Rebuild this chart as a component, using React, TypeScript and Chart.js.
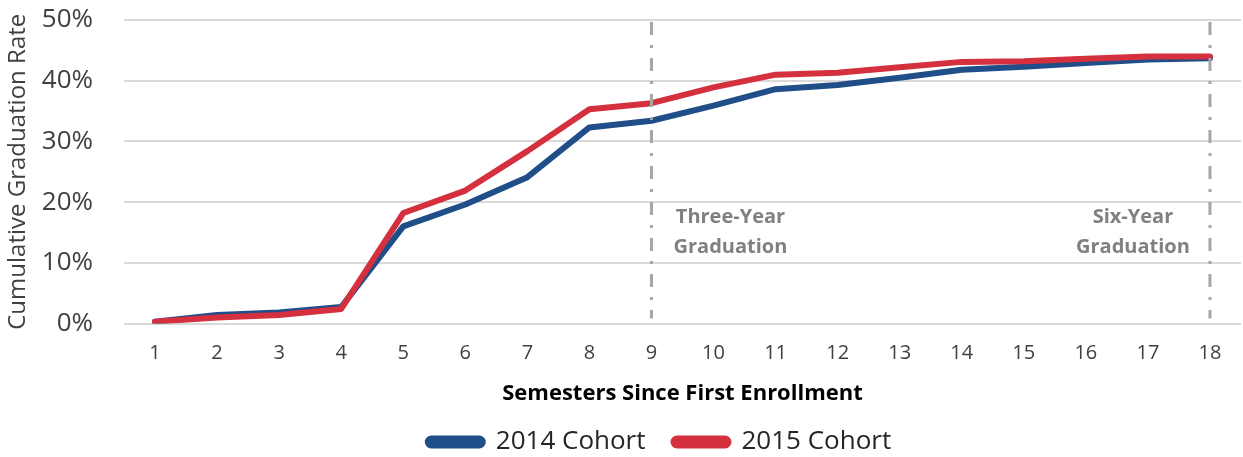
import React, { useEffect, useRef } from "react";
import { Chart, registerables } from "chart.js";

Chart.register(...registerables);

const semesters = ["1", "2", "3", "4", "5", "6", "7", "8", "9", "10", "11", "12", "13", "14", "15", "16", "17", "18"];
const cohort2014 = [0.3, 1.4, 1.8, 2.7, 16.0, 19.6, 24.1, 32.3, 33.4, 35.9, 38.6, 39.3, 40.5, 41.8, 42.3, 42.9, 43.5, 43.7];
const cohort2015 = [0.3, 1.0, 1.4, 2.4, 18.2, 21.9, 28.4, 35.3, 36.3, 38.9, 41.0, 41.3, 42.2, 43.1, 43.2, 43.6, 44.0, 44.0];
const yTicks = [0, 10, 20, 30, 40, 50];
const markers = [
  { label: "9", lines: ["Three-Year", "Graduation"], dx: 79 },
  { label: "18", lines: ["Six-Year", "Graduation"], dx: -77 },
];
const markerTextValues = [17.5, 12.6];

const FONT = "'Open Sans', 'Noto Sans', sans-serif";
const BLUE = "#1f4e89";
const RED = "#d4303d";

const markerPlugin = {
  id: "markerLines",
  afterLayout(chart: any) {
    const lg = chart.legend;
    if (lg) {
      lg.left += 39;
      lg.right += 39;
    }
  },
  afterDatasetsDraw(chart: any) {
    const { ctx, chartArea, scales } = chart;
    const xs = scales.x;
    const ys = scales.y;
    ctx.save();
    markers.forEach((m) => {
      const idx = semesters.indexOf(m.label);
      const x = xs.getPixelForValue(idx);
      ctx.beginPath();
      ctx.strokeStyle = "#a6a6a6";
      ctx.lineWidth = 3;
      ctx.setLineDash([13, 10, 3, 10]);
      ctx.moveTo(x, chartArea.top + 2);
      ctx.lineTo(x, chartArea.bottom - 5);
      ctx.stroke();
      ctx.setLineDash([]);
      ctx.fillStyle = "#808080";
      ctx.font = `bold 20px ${FONT}`;
      ctx.textAlign = "center";
      ctx.textBaseline = "middle";
      m.lines.forEach((t, i) => {
        ctx.fillText(t, x + m.dx, ys.getPixelForValue(markerTextValues[i]));
      });
    });
    ctx.restore();
  },
};

export default function App() {
  const ref = useRef<HTMLCanvasElement | null>(null);
  useEffect(() => {
    if (!ref.current) return;
    const chart = new Chart(ref.current, {
      type: "line",
      data: {
        labels: semesters,
        datasets: [
          {
            label: "2014 Cohort",
            data: cohort2014,
            borderColor: BLUE,
            backgroundColor: BLUE,
            borderWidth: 6,
            pointRadius: 0,
            tension: 0,
            borderJoinStyle: "round",
            borderCapStyle: "round",
            order: 1,
          },
          {
            label: "2015 Cohort",
            data: cohort2015,
            borderColor: RED,
            backgroundColor: RED,
            borderWidth: 6,
            pointRadius: 0,
            tension: 0,
            borderJoinStyle: "round",
            borderCapStyle: "round",
            order: 0,
          },
        ],
      },
      options: {
        responsive: false,
        animation: false,
        layout: { padding: { top: 20, right: 2, left: 0, bottom: -8 } },
        plugins: {
          tooltip: { enabled: false },
          legend: {
            position: "bottom",
            labels: {
              sort: (a: any, b: any) => a.datasetIndex - b.datasetIndex,
              boxWidth: 55,
              boxHeight: 7,
              useBorderRadius: true,
              borderRadius: 3.5,
              padding: 28,
              color: "#262626",
              font: { family: FONT, size: 26 },
            },
          },
        },
        scales: {
          x: {
            type: "category",
            offset: true,
            grid: { display: false, drawTicks: false },
            border: { display: false },
            ticks: {
              color: "#404040",
              font: { family: FONT, size: 20 },
              padding: 17.5,
              maxRotation: 0,
              autoSkip: false,
            },
            title: {
              display: true,
              text: "Semesters Since First Enrollment",
              color: "#000000",
              font: { family: FONT, size: 22, weight: "bold" },
              padding: { top: 0, bottom: -6 },
            },
            afterFit: (s: any) => {
              s.height = 77.5;
            },
          },
          y: {
            min: 0,
            max: 50,
            afterBuildTicks: (s: any) => {
              s.ticks = yTicks.map((v) => ({ value: v }));
            },
            grid: { color: "#d9d9d9", lineWidth: 2, drawTicks: false },
            border: { display: false },
            ticks: {
              color: "#404040",
              font: { family: FONT, size: 26 },
              padding: 31,
              callback: (v: any) => `${v}%`,
            },
            title: {
              display: true,
              text: "Cumulative Graduation Rate",
              color: "#404040",
              font: { family: FONT, size: 24 },
              padding: { top: 4, bottom: 0 },
            },
            afterFit: (s: any) => {
              s.width = 124;
              s.paddingTop = 0;
              s.paddingBottom = 0;
            },
          },
        },
      },
      plugins: [markerPlugin],
    });
    return () => chart.destroy();
  }, []);
  return (
    <div style={{ position: "absolute", left: 0, top: 0, width: 1243, height: 457, overflow: "hidden", background: "#fff" }}>
      <canvas ref={ref} width={1243} height={457} style={{ display: "block" }} />
    </div>
  );
}
